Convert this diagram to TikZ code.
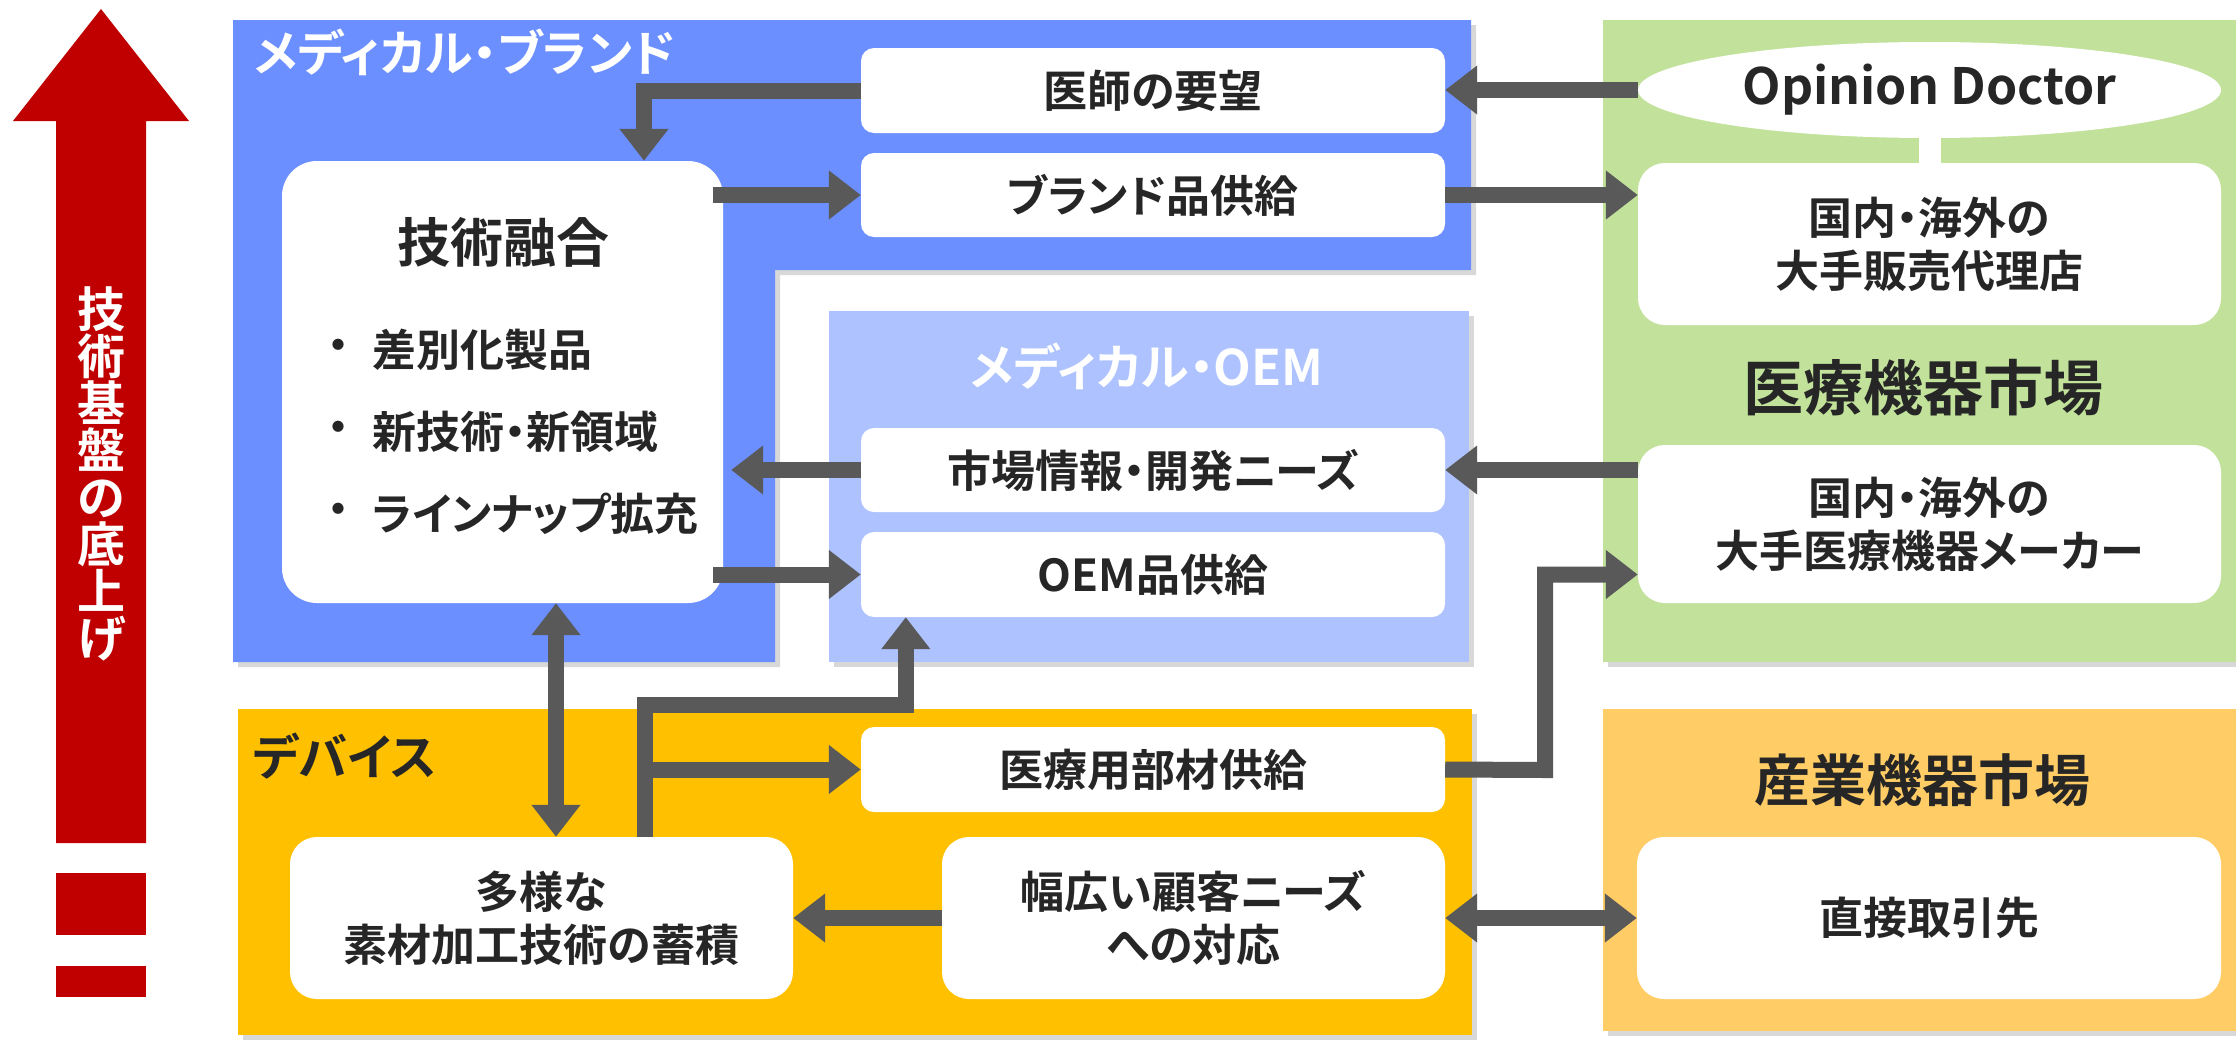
\documentclass[tikz,border=0pt]{standalone}
\usepackage{fontspec}
\setmainfont{Noto Sans CJK JP}[BoldFont={Noto Sans CJK JP Bold},RawFeature=+palt]
\usetikzlibrary{arrows.meta,shadows,shapes.geometric,calc}
\definecolor{brand}{HTML}{6B8FFF}
\definecolor{oem}{HTML}{ADC2FF}
\definecolor{mkt}{HTML}{C2E29B}
\definecolor{dev}{HTML}{FFC000}
\definecolor{ind}{HTML}{FFCC66}
\definecolor{arr}{HTML}{595959}
\definecolor{txt}{HTML}{262626}
\definecolor{redc}{HTML}{C00000}
\newcommand\fsz[2]{\bfseries\fontsize{#1bp}{#2bp}\selectfont}
\tikzset{
  region/.style={drop shadow={shadow xshift=5bp,shadow yshift=-5bp,opacity=0.3}},
  wbox/.style={fill=white, rounded corners=#1, align=center, inner sep=0pt, font=\fsz{44}{53}, text=txt},
  wbox/.default=13bp,
  conn/.style={draw=arr, line width=16bp, -{Triangle[width=47bp,length=32bp]}},
  dconn/.style={draw=arr, line width=16bp, {Triangle[width=47bp,length=32bp]}-{Triangle[width=47bp,length=32bp]}},
  ttl/.style={inner sep=0pt, font=\fsz{49}{49}},
  plain/.style={inner sep=0pt, text=txt},
}
\begin{document}
\begin{tikzpicture}[x=1bp,y=-1bp]
\useasboundingbox (0,0) rectangle (2236,1042);
\fill[white] (0,0) rectangle (2236,1042);
% red arrow
\fill[redc] (56,121) -- (13,121) -- (101,9) -- (189,121) -- (146,121) -- (146,843) -- (56,843) -- cycle;
\fill[redc] (56,873) rectangle (146,935);
\fill[redc] (56,966) rectangle (146,997);
\node[inner sep=0pt, font=\fsz{48}{47}, text=white, align=center] (vt) at (101,474) {技\\術\\基\\盤\\の\\底\\上\\げ};
% regions
\path[fill=brand, region] (233,20) -- (1471,20) -- (1471,270) -- (775,270) -- (775,662) -- (233,662) -- cycle;
\path[fill=oem, region] (829,311) rectangle (1469,662);
\path[fill=mkt, region] (1603,20) rectangle (2236,662);
\path[fill=dev, region] (238,709) rectangle (1472,1035);
\path[fill=ind, region] (1603,709) rectangle (2236,1031);
% labels
\node[ttl, text=white, anchor=west] (lbrand) at (254,52) {メディカル・ブランド};
\node[ttl, text=white] (loem) at (1147,366) {メディカル・OEM};
\node[ttl, text=txt, anchor=west] (ldev) at (253,756) {デバイス};
\node[plain, font=\fsz{60}{60}] (lmed) at (1923,388) {医療機器市場};
\node[plain, font=\fsz{56}{56}] (lind) at (1922,780) {産業機器市場};
% white boxes
\node[wbox, minimum width=584bp, minimum height=85bp] (req) at (1153,90.5) {医師の要望};
\node[wbox, minimum width=584bp, minimum height=84bp] (bsup) at (1153,195) {ブランド品供給};
\node[wbox, minimum width=584bp, minimum height=84bp] (mktinfo) at (1153,470) {市場情報・開発ニーズ};
\node[wbox, minimum width=584bp, minimum height=85bp] (oemsup) at (1153,574.5) {OEM品供給};
\node[wbox, minimum width=584bp, minimum height=85bp] (medsup) at (1153,769.5) {医療用部材供給};
\node[wbox=27bp, minimum width=503bp, minimum height=162bp] (wide) at (1193.5,918) {幅広い顧客ニーズ\\への対応};
\node[wbox=27bp, minimum width=503bp, minimum height=162bp] (mat) at (541.5,918) {多様な\\素材加工技術の蓄積};
\node[wbox=35bp, minimum width=441bp, minimum height=442bp] (tech) at (502.5,382) {};
\node[plain, font=\fsz{53}{53}] (techt) at (503,242) {技術融合};
\node[plain, font=\fsz{44}{44}] (d1) at (338,350) {・};
\node[plain, font=\fsz{44}{44}, anchor=west] (b1) at (372,350) {差別化製品};
\node[plain, font=\fsz{44}{44}] (d2) at (338,432) {・};
\node[plain, font=\fsz{44}{44}, anchor=west] (b2) at (372,432) {新技術・新領域};
\node[plain, font=\fsz{44}{44}] (d3) at (338,514) {・};
\node[plain, font=\fsz{44}{44}, anchor=west] (b3) at (372,514) {ラインナップ拡充};
\node[ellipse, fill=white, minimum width=583bp, minimum height=96bp, inner sep=0pt, text=txt, font=\fsz{50}{50}] (op) at (1929.5,90) {Opinion Doctor};
\node[wbox=27bp, minimum width=583bp, minimum height=162bp] (dist) at (1929.5,244) {国内・海外の\\大手販売代理店};
\node[wbox=27bp, minimum width=583bp, minimum height=158bp] (maker) at (1929.5,524) {国内・海外の\\大手医療機器メーカー};
\node[wbox=27bp, minimum width=584bp, minimum height=162bp] (direct) at (1929,918) {直接取引先};
% connectors
\coordinate (j1) at (1545,770);
\coordinate (j2) at (645,705);
\draw[conn] (req.west) -| ([xshift=141.5bp]tech.north);
\draw[conn] ($(tech.east |- bsup.west)+(-10,0)$) -- (bsup.west);
\draw[conn] (bsup.east) -- (bsup.east -| dist.west);
\draw[conn] (op.west) -- (op.west -| req.east);
\draw[conn] (mktinfo.west) -- ($(mktinfo.west -| tech.east)+(8,0)$);
\draw[conn] ($(tech.east |- oemsup.west)+(-10,0)$) -- (oemsup.west);
\draw[conn] (mktinfo.east -| maker.west) -- (mktinfo.east);
\draw[conn] (medsup.east) -- (j1) |- (maker.west |- oemsup.east);
\draw[conn] (mat.north -| j2) -- (j2) -| ($(oemsup.south west)+(45,0)$);
\draw[conn] (j2 |- medsup.west) -- (medsup.west);
\draw[conn] (wide.west) -- (mat.east);
\draw[dconn] ($(tech.south)+(53.5,0)$) -- ($(mat.north)+(14.5,0)$);
\draw[dconn] (wide.east) -- (direct.west);
\draw[white, line width=22bp] (op.south) -- (dist.north);
\end{tikzpicture}
\end{document}
